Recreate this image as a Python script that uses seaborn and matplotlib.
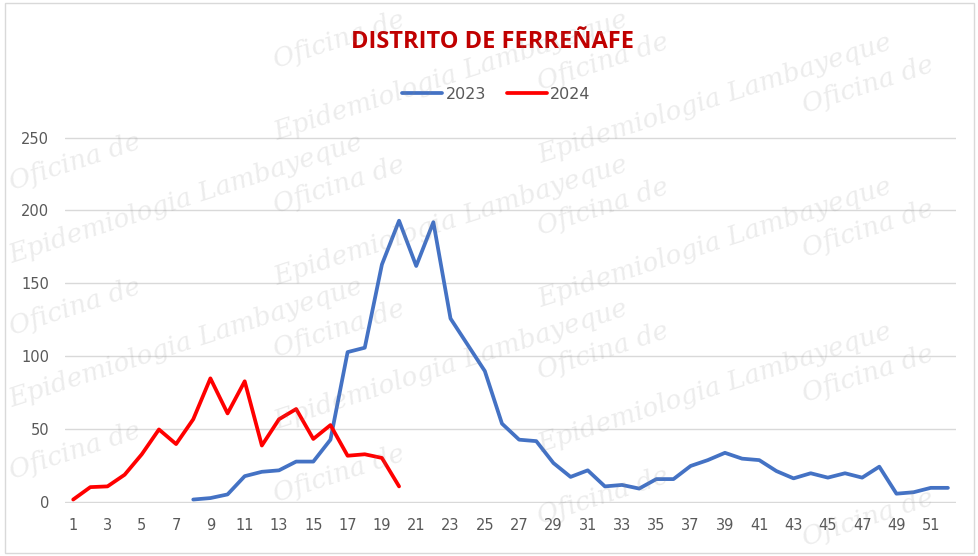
import pandas as pd
from matplotlib import pyplot as plt
import seaborn as sns

# weekly cases (semana epidemiologica)
weeks_2023 = list(range(8, 53))
cases_2023 = [2, 3, 5.5, 18, 21, 22, 28, 28, 43, 103, 106, 163, 193, 162, 192,
              126, 108, 90, 54, 43, 42, 27, 17.5, 22, 11, 12, 9.5, 16, 16, 25,
              29, 34, 30, 29, 21.5, 16.5, 20, 17, 20, 17, 24.5, 6, 7, 10, 10]
weeks_2024 = list(range(1, 21))
cases_2024 = [2, 10.5, 11, 19, 33, 50, 40, 57, 85, 61, 83, 39, 57, 64, 43.5,
              53, 32, 33, 30.5, 11]

x_ticks = list(range(1, 53, 2))
y_ticks = [0, 50, 100, 150, 200, 250]
title = 'DISTRITO DE FERREÑAFE'
wm_words = ['Epidemiologia Lambayeque', 'Oficina de']

df = pd.concat([
    pd.DataFrame({'semana': weeks_2023, 'casos': cases_2023, 'anio': '2023'}),
    pd.DataFrame({'semana': weeks_2024, 'casos': cases_2024, 'anio': '2024'}),
])

sns.set_theme(style='white')
plt.rcParams['font.family'] = ['DejaVu Sans']

fig = plt.figure(figsize=(9.79, 5.56), dpi=100)
ax = fig.add_axes([0.066, 0.095, 0.911, 0.659])

sns.lineplot(data=df, x='semana', y='casos', hue='anio',
             palette={'2023': '#4472C4', '2024': '#FF0000'},
             linewidth=2.7, ax=ax, legend=False)

ax.set_xlim(0.5, 52.5)
ax.set_ylim(-0.5, 250.5)
ax.set_xticks(x_ticks)
ax.set_yticks(y_ticks)
ax.tick_params(axis='both', labelsize=10.5, colors='#595959', length=0)
ax.tick_params(axis='x', pad=11)
ax.tick_params(axis='y', pad=11)
ax.grid(axis='y', color='#D9D9D9', linewidth=1)
ax.set_axisbelow(True)
for s in ax.spines.values():
    s.set_visible(False)
ax.set_xlabel('')
ax.set_ylabel('')

fig.text(0.503, 0.925, title, ha='center', va='center', fontsize=17,
         fontweight='bold', color='#C00000', family='Open Sans')

# legend
handles = [plt.Line2D([], [], color='#4472C4', lw=2.7),
           plt.Line2D([], [], color='#FF0000', lw=2.7)]
fig.legend(handles, ['2023', '2024'], loc='center', bbox_to_anchor=(0.507, 0.83),
           ncol=2, frameon=False, fontsize=11.5, handlelength=2.5,
           handletextpad=0.2, columnspacing=1.3, labelcolor='#595959')

# faint diagonal watermark, only copies that fit inside the figure
fig.canvas.draw()
renderer = fig.canvas.get_renderer()
for row in range(-2, 9):
    for col in range(4):
        word = wm_words[(row + col) % 2]
        t = fig.text(0.01 + 0.27 * col, 0.02 + 0.13 * row + 0.09 * col, word,
                     rotation=18, fontsize=19, style='italic', family='DejaVu Serif',
                     color='#8c8c8c', alpha=0.16, ha='left', va='center',
                     rotation_mode='anchor', zorder=10)
        bb = t.get_window_extent(renderer)
        if bb.x0 < 2 or bb.y0 < 2 or bb.x1 > 977 or bb.y1 > 554:
            t.remove()

fig.patches.append(plt.Rectangle((0.005, 0.005), 0.99, 0.99, transform=fig.transFigure,
                                 fill=False, edgecolor='#D9D9D9', lw=1))

fig.savefig('out.png', dpi=100)
